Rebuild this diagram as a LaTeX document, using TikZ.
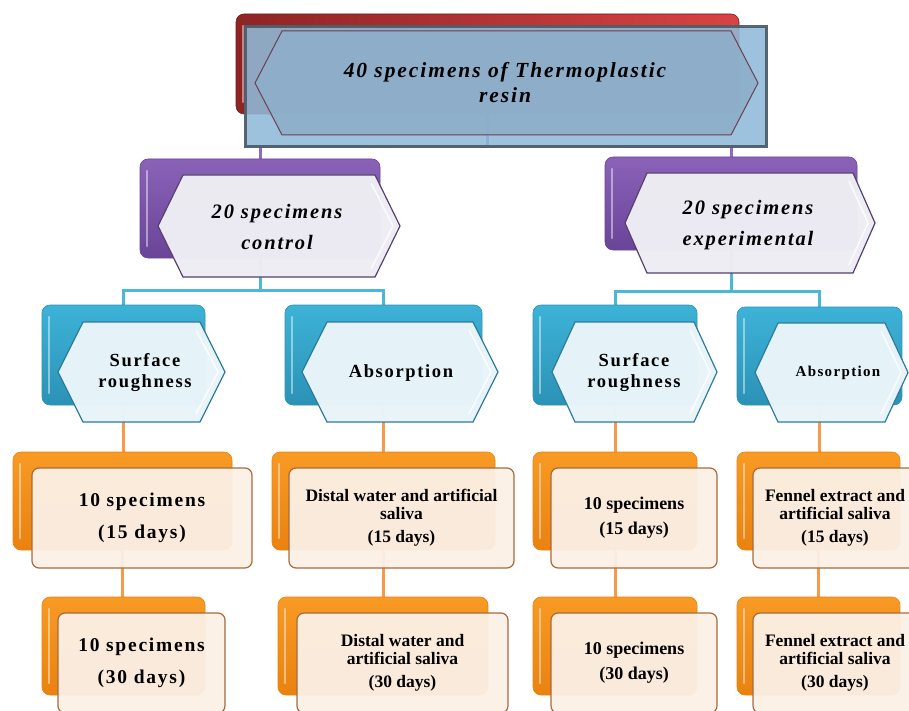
\documentclass[tikz,border=0pt]{standalone}
\usepackage{fontspec}
\setmainfont{Liberation Serif}
\newfontfamily\wideserif[LetterSpace=9]{Liberation Serif}
\pgfdeclarelayer{lines}
\pgfdeclarelayer{backbox}
\pgfsetlayers{lines,backbox,main}
\definecolor{redL}{HTML}{8E2424}
\definecolor{redR}{HTML}{D94343}
\definecolor{purT}{HTML}{8A63B9}
\definecolor{purB}{HTML}{6A4497}
\definecolor{tealT}{HTML}{3DB3D7}
\definecolor{tealB}{HTML}{2B92B6}
\definecolor{orT}{HTML}{F89A24}
\definecolor{orB}{HTML}{EA820F}
\definecolor{creamF}{HTML}{FBF0E6}
\definecolor{creamD}{HTML}{A86A3C}
\definecolor{hexP}{HTML}{EEEDF3}
\definecolor{hexPD}{HTML}{55406E}
\definecolor{hexT}{HTML}{E9F4F9}
\definecolor{hexTD}{HTML}{2C7C9C}
\definecolor{blueF}{HTML}{8FBAD8}
\definecolor{blueD}{HTML}{4E5F6A}
\definecolor{hexTop}{HTML}{8DAEC9}
\definecolor{hexTopD}{HTML}{6B3F52}
\definecolor{lnP}{HTML}{8E6BBE}
\definecolor{lnT}{HTML}{4BB8DA}
\definecolor{lnO}{HTML}{F79A4A}
\newcommand{\hexpath}[6]{\path[#1] (#2,{(#3+#5)/2}) -- (#2+#6,#3) -- (#4-#6,#3) -- (#4,{(#3+#5)/2}) -- (#4-#6,#5) -- (#2+#6,#5) -- cycle;
  \draw[white,opacity=0.8,line width=1.5pt] (#4-#6-4,#3+8) -- (#4-7,{(#3+#5)/2}) -- (#4-#6-4,#5-8);}
\begin{document}
\begin{tikzpicture}[x=1pt,y=-1pt,
  backbase/.style={rounded corners=8pt, inner sep=0pt,
    path picture={\draw[white,opacity=0.45,line width=2.5pt,line cap=round]
      ([xshift=7pt,yshift=-12pt]path picture bounding box.north west) --
      ([xshift=7pt,yshift=12pt]path picture bounding box.south west);}},
  redback/.style={backbase, left color=redL, right color=redR, draw=redL!80!black, line width=0.6pt},
  purback/.style={backbase, top color=purT, bottom color=purB, draw=purB, line width=0.6pt},
  tealback/.style={backbase, top color=tealT, bottom color=tealB, draw=tealB, line width=0.6pt},
  orback/.style={backbase, top color=orT, bottom color=orB, draw=orB, line width=0.6pt},
  cream/.style={rounded corners=7pt, fill=creamF, fill opacity=0.95, text opacity=1,
    draw=creamD, line width=1.2pt, align=center, inner sep=0pt, text=black},
  bluebox/.style={fill=blueF, fill opacity=0.88, draw=blueD, draw opacity=0.95, line width=3pt},
  hextop/.style={fill=hexTop, fill opacity=0.9, draw=hexTopD, line width=1pt},
  hexpur/.style={fill=hexP, fill opacity=0.98, draw=hexPD, line width=1.2pt},
  hextea/.style={fill=hexT, fill opacity=0.98, draw=hexTD, line width=1.2pt},
  txt/.style={align=center, inner sep=0pt, text=black},
  conP/.style={draw=lnP, line width=3pt},
  conT/.style={draw=lnT, line width=3pt},
  conO/.style={draw=lnO, line width=3pt},
  fTop/.style={font=\fontsize{21.5pt}{25pt}\wideserif\bfseries\itshape},
  fPur/.style={font=\fontsize{20.5pt}{31pt}\wideserif\bfseries\itshape},
  fTea/.style={font=\fontsize{18.5pt}{21pt}\wideserif\bfseries},
  fTeaS/.style={font=\fontsize{15pt}{18pt}\wideserif\bfseries},
  fOrW/.style={font=\fontsize{19.5pt}{32pt}\wideserif\bfseries},
  fOrM/.style={font=\fontsize{18pt}{25pt}\bfseries},
  fOrS/.style={font=\fontsize{17.5pt}{18pt}\bfseries}
]
\useasboundingbox (0,0) rectangle (909,711);
\clip (0,0) rectangle (909,711);

% back boxes
\begin{pgfonlayer}{backbox}
\node[redback, minimum width=503pt, minimum height=100pt] (topback) at (487.5,64) {};
\node[purback, minimum width=240pt, minimum height=99pt] (pl) at (260,208.5) {};
\node[purback, minimum width=252pt, minimum height=93pt] (pr) at (731,203.5) {};
\node[tealback, minimum width=163pt, minimum height=100pt] (t1) at (123.5,355) {};
\node[tealback, minimum width=197pt, minimum height=100pt] (t2) at (383.5,355) {};
\node[tealback, minimum width=164pt, minimum height=100pt] (t3) at (615,355) {};
\node[tealback, minimum width=165pt, minimum height=98pt] (t4) at (819.5,356) {};
\node[orback, minimum width=219pt, minimum height=98pt] (o1) at (122.5,501) {};
\node[orback, minimum width=223pt, minimum height=98pt] (o2) at (383.5,501) {};
\node[orback, minimum width=164pt, minimum height=98pt] (o3) at (615,501) {};
\node[orback, minimum width=163pt, minimum height=98pt] (o4) at (818.5,501) {};
\node[orback, minimum width=163pt, minimum height=98pt] (p1) at (123.5,646) {};
\node[orback, minimum width=210pt, minimum height=98pt] (p2) at (383,646) {};
\node[orback, minimum width=164pt, minimum height=98pt] (p3) at (615,646) {};
\node[orback, minimum width=163pt, minimum height=98pt] (p4) at (818.5,646) {};
\end{pgfonlayer}

% top front
\path[bluebox] (245,27) rectangle (766,147);
\path[hextop] (255,83) -- (282,31) -- (731,31) -- (758,83) -- (731,135) -- (282,135) -- cycle;
\node[txt, fTop] (toptext) at (505,83) {40 specimens of Thermoplastic\\resin};

% purple fronts
\hexpath{hexpur}{158}{175}{400}{277}{25}
\node[txt, fPur] (ptl) at (277,227) {20 specimens\\control};
\hexpath{hexpur}{625}{173}{875}{273}{22}
\node[txt, fPur] (ptr) at (748,225) {20 specimens\\experimental};

% teal fronts
\hexpath{hextea}{58}{322}{225}{422}{25}
\node[txt, fTea] (tt1) at (145,373) {Surface\\roughness};
\hexpath{hextea}{302}{322}{498}{422}{25}
\node[txt, fTea] (tt2) at (401,373) {Absorption};
\hexpath{hextea}{552}{322}{717}{422}{23}
\node[txt, fTea] (tt3) at (634,373) {Surface\\roughness};
\hexpath{hextea}{755}{323}{908}{422}{23}
\node[txt, fTeaS] (tt4) at (838,373) {Absorption};

% cream fronts level 1
\node[cream, fOrW, minimum width=220pt, minimum height=100pt] (c1) at (142,518) {10 specimens\\(15 days)};
\node[cream, fOrS, minimum width=225pt, minimum height=100pt] (c2) at (401.5,518) {Distal water and artificial\\saliva\\[5pt](15 days)};
\node[cream, fOrM, minimum width=166pt, minimum height=100pt] (c3) at (634,518) {10 specimens\\(15 days)};
\node[cream, fOrS, minimum width=164pt, minimum height=100pt] (c4) at (835,518) {Fennel extract and\\artificial saliva\\[5pt](15 days)};

% cream fronts level 2
\node[cream, fOrW, minimum width=167pt, minimum height=100pt] (d1) at (141.5,663) {10 specimens\\(30 days)};
\node[cream, fOrS, minimum width=211pt, minimum height=100pt] (d2) at (402.5,663) {Distal water and\\artificial saliva\\[5pt](30 days)};
\node[cream, fOrM, minimum width=166pt, minimum height=100pt] (d3) at (634,663) {10 specimens\\(30 days)};
\node[cream, fOrS, minimum width=164pt, minimum height=100pt] (d4) at (835,663) {Fennel extract and\\artificial saliva\\[5pt](30 days)};

% connectors
\begin{pgfonlayer}{lines}
\coordinate (j0) at (487.5,147);
\draw[conP] (topback.south) -- (j0);
\draw[conP] (pl.north) |- (j0) -| (pr.north);
\coordinate (j1) at (260,290);
\draw[conT] (pl.south) -- (j1);
\draw[conT] (t1.north) |- (j1) -| (t2.north);
\coordinate (j2) at (731,291);
\draw[conT] (pr.south) -- (j2);
\draw[conT] (t3.north) |- (j2) -| (t4.north);
\draw[conO] (t1.south) -- (t1.south |- o1.north);
\draw[conO] (t2.south) -- (t2.south |- o2.north);
\draw[conO] (t3.south) -- (t3.south |- o3.north);
\draw[conO] (t4.south) -- (t4.south |- o4.north);
\draw[conO] (o1.south) -- (o1.south |- p1.north);
\draw[conO] (o2.south) -- (o2.south |- p2.north);
\draw[conO] (o3.south) -- (o3.south |- p3.north);
\draw[conO] (o4.south) -- (o4.south |- p4.north);
\end{pgfonlayer}
\end{tikzpicture}
\end{document}
